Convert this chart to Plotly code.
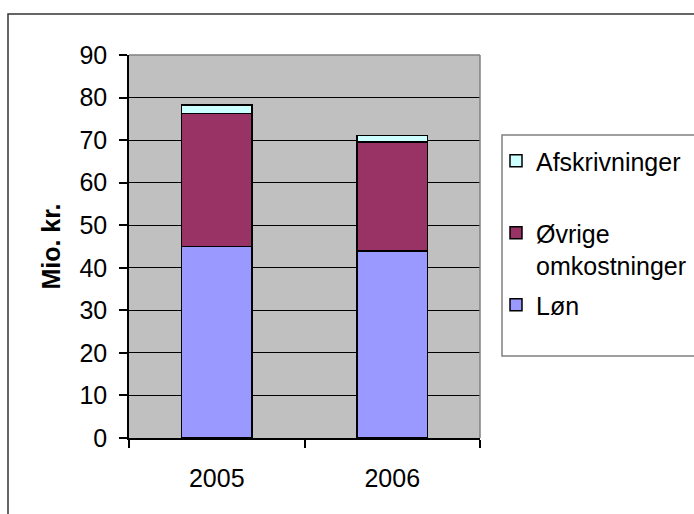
import plotly.graph_objects as go

years = ["2005", "2006"]
loen = [45.0, 44.0]
oevrige = [31.3, 25.6]
afskr = [1.9, 1.5]
y_ticks = [0, 10, 20, 30, 40, 50, 60, 70, 80, 90]

FONT = "Liberation Sans, Arial, sans-serif"
W, H = 694, 514
L, R, T, B = 129, 480, 55, 438


def px_x(p):
    return (p - L) / (R - L)


def px_y(p):
    return (B - p) / (B - T)


fig = go.Figure()
fig.add_bar(x=years, y=loen, name="Løn", marker=dict(color="#9999FF", line=dict(color="black", width=1.5)),
            width=0.4, legendgroup="c", legendrank=3)
fig.add_bar(x=years, y=oevrige, name="Øvrige<br>omkostninger",
            marker=dict(color="#993366", line=dict(color="black", width=1.5)), width=0.4, legendgroup="b",
            legendrank=2)
fig.add_bar(x=years, y=afskr, name="Afskrivninger<br> ",
            marker=dict(color="#CCFFFF", line=dict(color="black", width=1.5)), width=0.4, legendgroup="a",
            legendrank=1)

shapes = [
    # outer chart frame
    dict(type="rect", xref="paper", yref="paper", x0=px_x(8), x1=px_x(720), y0=px_y(540), y1=px_y(14),
         line=dict(color="#333333", width=1.5), fillcolor="rgba(0,0,0,0)"),
    # legend box
    dict(type="rect", xref="paper", yref="paper", x0=px_x(502), x1=px_x(720), y0=px_y(356), y1=px_y(135),
         line=dict(color="#808080", width=1.5), fillcolor="rgba(0,0,0,0)"),
    # plot area border (top, right)
    dict(type="line", xref="paper", yref="paper", x0=0, x1=1, y0=1, y1=1, line=dict(color="#808080", width=1.5)),
    dict(type="line", xref="paper", yref="paper", x0=1, x1=1, y0=0, y1=1, line=dict(color="#808080", width=1.5)),
]

fig.update_layout(
    width=W, height=H,
    margin=dict(l=L, r=W - R, t=T, b=H - B, autoexpand=False),
    paper_bgcolor="white",
    plot_bgcolor="#C0C0C0",
    barmode="stack",
    font=dict(family=FONT, size=25, color="black"),
    showlegend=True,
    legend=dict(x=px_x(496), y=px_y(138), xanchor="left", yanchor="top", traceorder="grouped",
                tracegroupgap=4, valign="top", bgcolor="rgba(0,0,0,0)", borderwidth=0,
                font=dict(family=FONT, size=25, color="black")),
    shapes=shapes,
    xaxis=dict(type="category", tickson="boundaries", ticks="outside", ticklen=8, tickwidth=1.5,
               tickcolor="black", showline=True, linecolor="black", linewidth=1.5, showgrid=False,
               tickfont=dict(family=FONT, size=25, color="black"), ticklabelstandoff=17),
    yaxis=dict(range=[0, 90], tickvals=y_ticks, ticks="outside", ticklen=8, tickwidth=1.5, tickcolor="black",
               showline=True, linecolor="black", linewidth=1.5, showgrid=True, gridcolor="black", gridwidth=1,
               zeroline=False, tickfont=dict(family=FONT, size=25, color="black"), ticklabelstandoff=7,
               title=dict(text="<b>Mio. kr.</b>", font=dict(family=FONT, size=25, color="black"), standoff=12)),
)

fig.write_html("out.html")
